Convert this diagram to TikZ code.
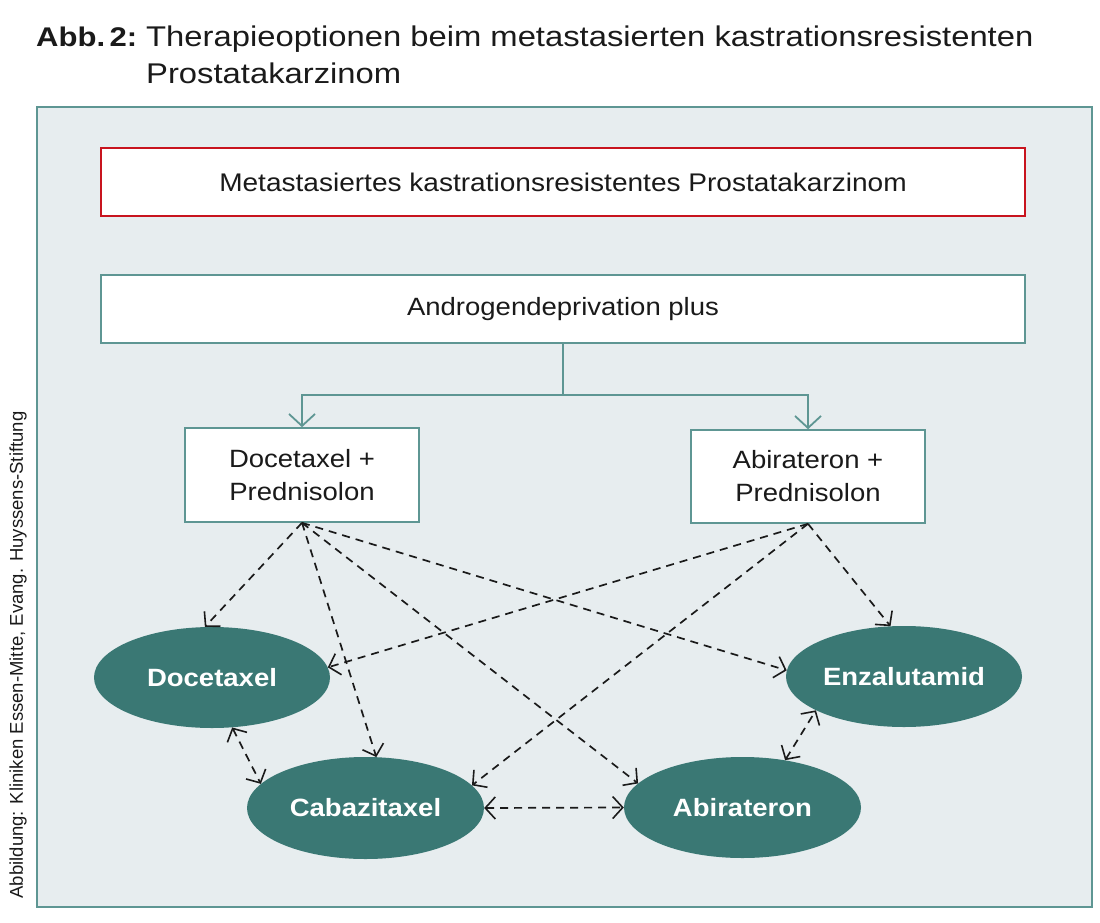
\documentclass[tikz,border=0pt]{standalone}
\usepackage{fontspec}
\setmainfont{Liberation Sans}[FakeStretch=1.1]
\newfontfamily\titlefont{Liberation Sans}[FakeStretch=1.15]
\newfontfamily\sidefont{Liberation Sans}
\usetikzlibrary{arrows.meta,shapes.geometric}
\definecolor{panelfill}{HTML}{E7EDEF}
\definecolor{tealline}{HTML}{5E9693}
\definecolor{ellfill}{HTML}{3A7874}
\definecolor{redline}{HTML}{C8141E}
\definecolor{txt}{HTML}{1A1A1A}
\tikzset{
  boxnode/.style={draw=tealline, line width=1.6pt, fill=white, inner sep=0pt, align=center, text=txt,
    font=\fontsize{25}{33}\selectfont},
  ellnode/.style={ellipse, fill=ellfill, inner sep=0pt, text=white, font=\fontsize{25}{30}\selectfont\bfseries},
  dasharrow/.style={draw=txt, line width=1.7pt, dash pattern=on 8pt off 6pt,
    -{Straight Barb[length=10pt,width=22pt,line width=1.6pt]}},
  bidash/.style={dasharrow, {Straight Barb[length=10pt,width=22pt,line width=1.6pt]}-{Straight Barb[length=10pt,width=22pt,line width=1.6pt]}},
  tealarrow/.style={draw=tealline, line width=1.8pt, -{Straight Barb[length=12pt,width=26pt,line width=1.8pt]}},
}
\begin{document}
\begin{tikzpicture}[x=1pt,y=-1pt]
\useasboundingbox (0,0) rectangle (1100,923);
% title
\node[anchor=base west, inner sep=0pt, text=txt, font=\titlefont\fontsize{27}{32}\selectfont\bfseries] (tabb) at (36,47) {Abb.\,2:};
\node[anchor=base west, inner sep=0pt, text=txt, font=\titlefont\fontsize{28.5}{32}\selectfont] (t1) at (146,47) {Therapieoptionen beim metastasierten kastrationsresistenten};
\node[anchor=base west, inner sep=0pt, text=txt, font=\titlefont\fontsize{28.5}{32}\selectfont] (t2) at (146,84) {Prostatakarzinom};
% panel
\node[draw=tealline, line width=1.6pt, fill=panelfill, minimum width=1055pt, minimum height=800pt, inner sep=0pt] (panel) at (564.5,507) {};
% side text
\node[rotate=90, inner sep=0pt, text=txt, font=\sidefont\fontsize{18.5}{22}\selectfont] (side) at (18,655) {Abbildung: Kliniken Essen-Mitte, Evang. Huyssens-Stiftung};
% boxes
\node[boxnode, draw=redline, minimum width=924pt, minimum height=68pt, font=\fontsize{25.5}{33}\selectfont] (mk) at (563,182) {Metastasiertes kastrationsresistentes Prostatakarzinom};
\node[boxnode, minimum width=924pt, minimum height=68pt] (adp) at (563,309) {Androgendeprivation plus};
\node[boxnode, minimum width=234pt, minimum height=94pt] (dp) at (302,475) {Docetaxel +\\Prednisolon};
\node[boxnode, minimum width=234pt, minimum height=93pt] (ap) at (808,476.5) {Abirateron +\\Prednisolon};
% ellipses
\node[ellnode, minimum width=236pt, minimum height=101pt] (doc) at (212,677.5) {Docetaxel};
\node[ellnode, minimum width=237pt, minimum height=102pt] (cab) at (365.5,808) {Cabazitaxel};
\node[ellnode, minimum width=237pt, minimum height=101pt] (abi) at (742.5,807.5) {Abirateron};
\node[ellnode, minimum width=236pt, minimum height=101pt] (enz) at (904,676.5) {Enzalutamid};
% teal connectors
\coordinate (split) at (563,395);
\draw[tealarrow] (adp.south) -- (split) -| (dp.north);
\draw[tealarrow] (split) -| (ap.north);
% dashed arrows from Docetaxel + Prednisolon
\draw[dasharrow] (dp.south) -- (doc.98);
\draw[dasharrow] (dp.south) -- (cab.78);
\draw[dasharrow] (dp.south) -- (abi.167);
\draw[dasharrow] (dp.south) -- (enz.177);
% dashed arrows from Abirateron + Prednisolon
\draw[dasharrow] (ap.south) -- (doc.5);
\draw[dasharrow] (ap.south) -- (cab.12);
\draw[dasharrow] (ap.south) -- (enz.105);
% bidirectional
\draw[bidash] (doc.292) -- (cab.167);
\draw[bidash] (cab.east) -- (abi.west);
\draw[bidash] (abi.48) -- (enz.201);
\end{tikzpicture}
\end{document}
